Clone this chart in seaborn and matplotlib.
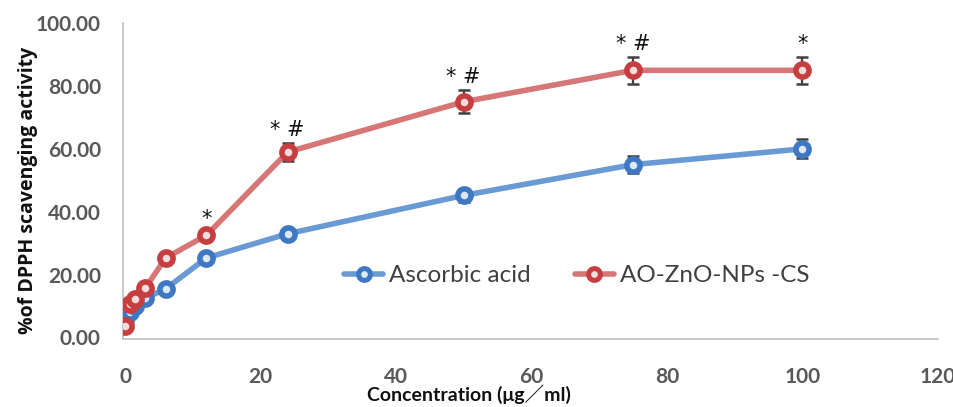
import numpy as np
import pandas as pd
import matplotlib
matplotlib.use("Agg")
import matplotlib.pyplot as plt
import seaborn as sns

conc = [0, 0.75, 1.5, 3, 6, 12, 24, 50, 75, 100]
ascorbic = [5.5, 8.0, 10.0, 12.5, 15.5, 25.3, 33.0, 45.2, 55.0, 60.0]
ascorbic_err = [0.5, 0.5, 0.5, 0.6, 0.8, 1.0, 1.2, 2.0, 2.8, 3.0]
ao_zno = [3.5, 10.5, 12.3, 15.8, 25.3, 32.5, 59.0, 75.0, 85.0, 85.0]
ao_zno_err = [0.5, 0.5, 0.6, 0.8, 1.0, 1.2, 2.8, 3.7, 4.2, 4.2]
series_names = ["Ascorbic acid", "AO-ZnO-NPs -CS"]
sig_x = [12, 24, 50, 75, 100]
sig_labels = ["*", "* #", "* #", "* #", "*"]
x_ticks = [0, 20, 40, 60, 80, 100, 120]
y_ticks = [0, 20, 40, 60, 80, 100]

df = pd.DataFrame({
    "conc": conc * 2,
    "value": ascorbic + ao_zno,
    "err": ascorbic_err + ao_zno_err,
    "series": [series_names[0]] * len(conc) + [series_names[1]] * len(conc),
})

sns.set_theme(style="white")
plt.rcParams["font.family"] = ["Lato", "DejaVu Sans"]

line_cols = {series_names[0]: "#6A9AD4", series_names[1]: "#D67676"}
mark_cols = {series_names[0]: "#3E77C2", series_names[1]: "#C63E40"}
face_cols = {series_names[0]: "#DDE8F6", series_names[1]: "#F6DCDC"}

fig = plt.figure(figsize=(9.54, 4.07), dpi=100)
ax = fig.add_axes([0.129, 0.167, 0.854, 0.776])

sns.lineplot(data=df, x="conc", y="value", hue="series", palette=line_cols,
             linewidth=4.0, ax=ax, legend=False, errorbar=None)

for name in series_names:
    sub = df[df.series == name]
    ax.errorbar(sub.conc, sub.value, yerr=sub.err, fmt="none", ecolor="#404040",
                elinewidth=1.6, capsize=4.5, capthick=1.8, zorder=3)
    ax.plot(sub.conc, sub.value, linestyle="none", marker="o", markersize=9.5,
            markerfacecolor=face_cols[name],
            markeredgecolor=mark_cols[name], markeredgewidth=4.0, zorder=4)

# legend proxies
handles = []
for name in series_names:
    h, = ax.plot([], [], color=line_cols[name], linewidth=4.0, marker="o", markersize=8.5,
                 markerfacecolor=face_cols[name], markeredgecolor=mark_cols[name],
                 markeredgewidth=3.6)
    handles.append(h)
leg = ax.legend(handles, series_names, loc="center", bbox_to_anchor=(0.557, 0.2), ncol=2,
                frameon=False, handlelength=1.6, columnspacing=1.8, handletextpad=0.25,
                prop={"family": ["Lato", "DejaVu Sans"], "size": 17.5})
for t in leg.get_texts():
    t.set_color("#404040")

ao_map = dict(zip(conc, ao_zno))
err_map = dict(zip(conc, ao_zno_err))
for xv, lab in zip(sig_x, sig_labels):
    ax.annotate(lab, (xv, ao_map[xv] + err_map[xv]), xytext=(0, 2), textcoords="offset points",
                ha="center", va="bottom", fontsize=15, color="#111111",
                family=["DejaVu Sans"])

ax.set_xticks(x_ticks)
ax.set_yticks(y_ticks)
ax.set_yticklabels([f"{v:.2f}" for v in y_ticks])
ax.tick_params(axis="both", labelsize=15, colors="#595959", length=0)
ax.tick_params(axis="x", pad=20)
ax.tick_params(axis="y", pad=16)
for lab in ax.get_xticklabels() + ax.get_yticklabels():
    lab.set_fontweight("bold")
ax.set_xlim(-0.3, 120)
ax.set_ylim(-0.5, 100)

for s in ["top", "right"]:
    ax.spines[s].set_visible(False)
for s in ["left", "bottom"]:
    ax.spines[s].set_color("#BFBFBF")
    ax.spines[s].set_linewidth(1.2)

ax.set_xlabel("Concentration (μg／ml)", fontsize=14, fontweight="bold", color="#111111",
              family=["Lato", "Noto Sans CJK SC", "DejaVu Sans"])
ax.xaxis.set_label_coords(0.425, -0.145)
ax.set_ylabel("%of DPPH scavenging activity", fontsize=14, fontweight="bold", color="#111111",
              family=["Open Sans", "DejaVu Sans"])
ax.yaxis.set_label_coords(-0.104, 0.47)

fig.savefig("out.png", dpi=100)
